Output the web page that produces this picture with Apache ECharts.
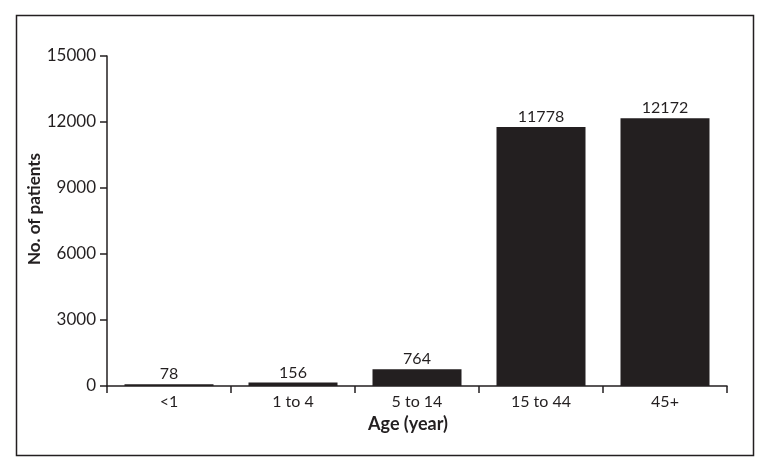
<!DOCTYPE html>
<html>
<head>
<meta charset="utf-8">
<script src="https://cdn.jsdelivr.net/npm/echarts@6/dist/echarts.min.js"></script>
<style>
html,body{margin:0;padding:0;background:#fff;}
#c{width:770px;height:472px;}
</style>
</head>
<body>
<div id="c"></div>
<script>
const categories = ['<1', '1 to 4', '5 to 14', '15 to 44', '45+'];
const patients = [78, 156, 764, 11778, 12172];
const yTicks = [0, 3000, 6000, 9000, 12000, 15000];

const ink = '#231f20';
const font = 'Lato';
const chart = echarts.init(document.getElementById('c'), null, {renderer: 'canvas'});
chart.setOption({
  animation: false,
  graphic: [{
    type: 'rect',
    shape: {x: 16.5, y: 15.5, width: 737, height: 440},
    style: {fill: 'none', stroke: ink, lineWidth: 1.5}
  }],
  grid: {left: 107, right: 43, top: 56, bottom: 86, containLabel: false},
  xAxis: {
    type: 'category',
    data: categories,
    name: 'Age (year)',
    nameLocation: 'middle',
    nameGap: 23,
    nameTextStyle: {fontFamily: font, fontWeight: 'bold', fontSize: 18, color: ink, padding: [0, 18, 0, 0]},
    axisLine: {lineStyle: {color: ink, width: 1.5}},
    axisTick: {show: true, alignWithLabel: false, length: 7, lineStyle: {color: ink, width: 1.5}},
    axisLabel: {fontFamily: font, fontSize: 16, color: ink, margin: 8}
  },
  yAxis: {
    type: 'value',
    min: yTicks[0],
    max: yTicks[yTicks.length - 1],
    interval: 3000,
    name: 'No. of patients',
    nameLocation: 'middle',
    nameGap: 64,
    nameMoveOverlap: false,
    nameTextStyle: {fontFamily: font, fontWeight: 'bold', fontSize: 17, color: ink, padding: [0, 0, 0, 24]},
    splitLine: {show: false},
    axisLine: {show: true, lineStyle: {color: ink, width: 1.5}},
    axisTick: {show: true, length: 7, lineStyle: {color: ink, width: 1.5}},
    axisLabel: {fontFamily: font, fontSize: 17, color: ink, margin: 11, formatter: v => String(v)}
  },
  series: [{
    type: 'bar',
    data: patients,
    barWidth: 89,
    itemStyle: {color: ink},
    label: {show: true, position: 'top', distance: 2, fontFamily: font, fontSize: 16, color: ink}
  }]
});
</script>
</body>
</html>
